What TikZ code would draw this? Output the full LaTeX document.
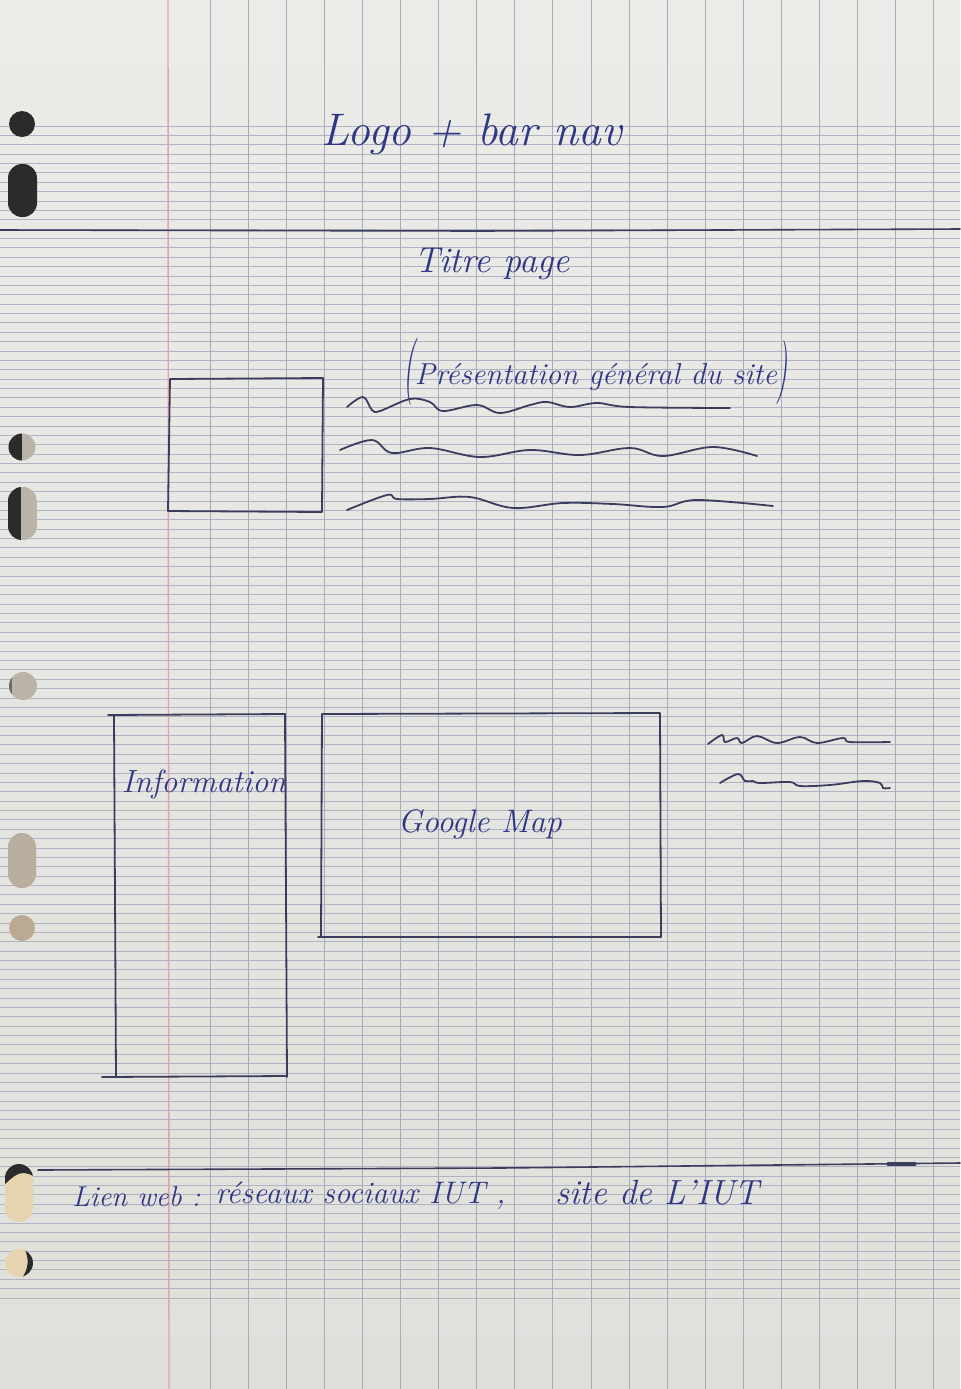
\documentclass[tikz,border=0pt]{standalone}
\usepackage{fontspec}
\usepackage{graphicx}
\definecolor{paperTop}{HTML}{EBEBE8}
\definecolor{paperBot}{HTML}{E0E0DB}
\definecolor{rulecol}{HTML}{B2B2C4}
\definecolor{gridcol}{HTML}{A8A8BE}
\definecolor{margincol}{HTML}{E3A3AE}
\definecolor{pen}{HTML}{3A3E5C}
\definecolor{inkblue}{HTML}{2E3784}
\definecolor{holeDark}{HTML}{2B2B2B}
\definecolor{holeGrey}{HTML}{B9B3A8}
\definecolor{holeBeige}{HTML}{E6D3B0}
\tikzset{
  rule/.style={rulecol, line width=0.45pt},
  gridline/.style={gridcol, line width=0.5pt},
  marginline/.style={margincol, line width=0.7pt},
  penline/.style={pen, line width=0.9pt, line cap=round, line join=round},
  squiggle/.style={pen, line width=0.9pt, line cap=round, smooth, tension=0.6},
  ink/.style={inkblue, font=\fontsize{16pt}{18pt}\selectfont\itshape, inner sep=0pt},
}
\newcommand{\hw}[2]{\resizebox{#1}{!}{#2}}
\begin{document}
\begin{tikzpicture}[x=0.5pt,y=-0.5pt]
  \useasboundingbox (0,0) rectangle (960,1389);
  % sheet
  \shade[top color=paperTop, bottom color=paperBot] (0,0) rectangle (960,1389);
  % Seyes ruling: fine horizontal lines
  \foreach \i in {0,...,125}
    \draw[rule] (0,{126+9.376*\i}) -- (960,{126+9.376*\i});
  % vertical grid lines
  \foreach \k in {0,...,19}
    \draw[gridline] ({210+38.1*\k},0) -- ({210+38.1*\k},1389);
  % red margin
  \draw[marginline] (168,0) -- (169,1389);

  % punched holes
  \fill[holeDark] (22,124) circle (13);
  \fill[holeDark, rounded corners=7pt] (8,164) rectangle (37,217);
  \begin{scope}
    \clip (22,447) circle (13.5);
    \fill[holeGrey] (8,433) rectangle (37,462);
    \fill[holeDark] (8,433) rectangle (22,462);
  \end{scope}
  \begin{scope}
    \clip[rounded corners=7pt] (8,487) rectangle (37,540);
    \fill[holeGrey] (8,487) rectangle (37,540);
    \fill[holeDark] (8,487) rectangle (21,540);
  \end{scope}
  \begin{scope}
    \clip (23,686) circle (14);
    \fill[holeGrey] (8,672) rectangle (38,701);
    \fill[holeDark!70] (8,672) rectangle (12,701);
  \end{scope}
  \fill[holeGrey!90!brown, rounded corners=7pt] (8,833) rectangle (36,888);
  \fill[holeGrey!80!brown] (22,928) circle (13);
  \begin{scope}
    \clip[rounded corners=7pt] (5,1164) rectangle (33,1222);
    \fill[holeBeige] (5,1164) rectangle (33,1222);
    \fill[holeDark] (5,1164) -- (33,1164) -- (33,1176) .. controls (20,1168) and (12,1178) .. (5,1184) -- cycle;
  \end{scope}
  \begin{scope}
    \clip (19,1263) circle (14);
    \fill[holeBeige] (4,1248) rectangle (34,1278);
    \fill[holeDark] (24,1248) .. controls (30,1258) and (28,1270) .. (22,1278) -- (34,1278) -- (34,1248) -- cycle;
  \end{scope}

  % header separator and footer separator
  \draw[penline, line width=0.8pt] (0,230) -- (480,231) -- (960,229);
  \draw[penline, line width=0.8pt] (38,1170) -- (500,1168) -- (960,1163);
  \draw[penline, line width=1.6pt] (888,1164) -- (915,1164);

  % header
  \node[ink] (header) at (472,134) {\hw{150pt}{Logo + bar nav}};
  % page title
  \node[ink] (title) at (492,264) {\hw{78pt}{Titre page}};
  % intro block
  \node[ink, anchor=west] (intro) at (403,372)
    {\raisebox{-2pt}{\scalebox{0.9}[2.1]{(}}\hw{181pt}{Présentation général du site}\raisebox{-2pt}{\scalebox{0.9}[2]{)}}};
  \draw[penline] (170,379) -- (323,378) -- (322,512) -- (168,511) -- cycle;
  \draw[squiggle] plot coordinates {(347,407) (363,397) (372,410) (380,411) (410,399) (430,402) (443,411) (477,405) (500,413) (530,405) (547,402) (570,407) (597,403) (630,407) (730,408)};
  \draw[squiggle] plot coordinates {(340,450) (372,440) (392,453) (430,448) (480,457) (530,450) (580,455) (630,448) (663,456) (713,447) (757,456)};
  \draw[squiggle] plot coordinates {(347,510) (387,495) (397,499) (430,499) (470,497) (513,508) (563,503) (613,504) (663,507) (697,500) (773,506)};

  % information column
  \draw[penline] (108,715) -- (285,714);
  \draw[penline] (114,715) -- (116,1077);
  \draw[penline] (285,714) -- (287,1077);
  \draw[penline] (102,1077) -- (287,1076);
  \node[ink] (info) at (204,784) {\hw{82pt}{Information}};

  % map block
  \draw[penline] (322,714) -- (660,713) -- (661,937) -- (318,937);
  \draw[penline] (322,714) -- (321,937);
  \node[ink] (map) at (480,824) {\hw{82pt}{Google Map}};
  \draw[squiggle] plot coordinates {(708,744) (722,735) (725,742) (737,738) (742,743) (757,736) (777,743) (800,737) (817,743) (843,738) (850,742) (890,742)};
  \draw[squiggle] plot coordinates {(720,783) (738,774) (745,781) (753,781) (760,783) (790,782) (800,786) (830,785) (863,781) (880,783) (883,788) (890,788)};

  % footer links
  \node[ink, anchor=west] (links) at (72,1197) {\hw{64pt}{Lien web :}};
  \node[ink, anchor=west] (social) at (215,1196) {\hw{145pt}{réseaux sociaux IUT ,}};
  \node[ink, anchor=west] (site) at (555,1193) {\hw{102pt}{site de L'IUT}};
\end{tikzpicture}
\end{document}
